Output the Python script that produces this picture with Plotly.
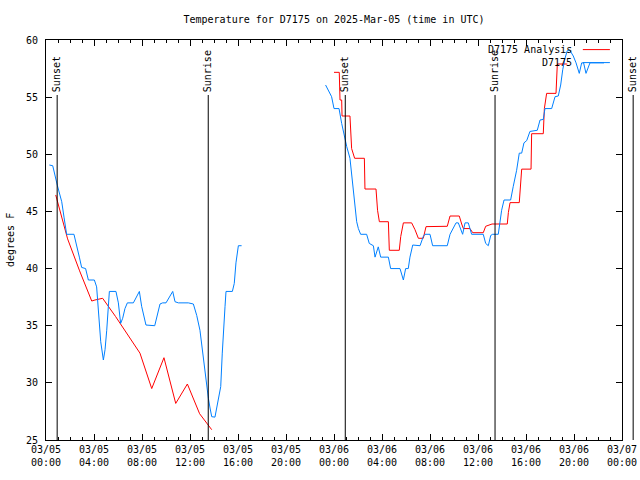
import pandas as pd
import plotly.graph_objects as go

BASE = pd.Timestamp("2025-03-05 00:00")
X_END_HOURS = 48

# Observed station series (hours since 03/05 00:00 UTC, degrees F); None = gap
obs_hours = [0.28, 0.56, 0.94, 1.31, 1.5, 1.72, 2.33, 2.6, 2.78, 2.97, 3.3, 3.53, 4.03, 4.22, 4.36, 4.56,
             4.78, 4.92, 5.06, 5.19, 5.28, 5.83, 6.03, 6.22, 6.39, 6.58, 6.78, 7.28, 7.78, 7.97, 8.33, 9.06,
             9.5, 9.72, 10.0, 10.56, 10.75, 11.03, 11.86, 12.28, 12.56, 12.83, 13.1, 13.33, 13.53, 13.67,
             13.81, 14.08, 14.36, 14.56, 14.69, 14.83, 14.92, 15.0, 15.53, 15.69, 15.83, 16.03, 16.3,
             20.0,
             23.3, 23.67, 23.8, 24.0, 24.42, 24.64, 24.92, 25.06, 25.33, 25.47, 25.6, 25.75, 25.89, 26.03,
             26.22, 26.72, 26.94, 27.28, 27.42, 27.69, 27.89, 28.53, 28.72, 29.5, 29.78, 29.97, 30.19, 30.33,
             30.56, 31.17, 31.44, 31.58, 32.0, 32.22, 33.44, 33.67, 33.89, 34.17, 34.36, 34.56, 34.72, 34.92,
             35.19, 35.47, 36.44, 36.64, 36.86, 37.06, 37.22, 37.69, 37.83, 37.97, 38.17, 38.72, 38.94, 39.22,
             39.44, 39.64, 39.83, 40.06, 40.33, 40.94, 41.17, 41.44, 41.58, 42.14, 42.42, 42.69, 42.89, 43.06,
             43.25, 43.44, 43.67, 43.94, 44.17, 44.44, 44.64, 44.8, 45.0, 45.33, 46.5]
obs_temps = [49.06, 49.0, 47.3, 45.85, 44.5, 43.0, 43.0, 41.9, 41.0, 40.1, 40.0, 39.0, 39.0, 38.4, 36.1, 33.6,
             32.0, 32.9, 34.6, 36.7, 38.0, 38.0, 37.0, 35.2, 35.65, 36.5, 37.0, 37.0, 38.0, 36.7, 35.06, 35.0,
             36.9, 37.0, 37.0, 38.0, 37.1, 37.0, 37.0, 36.9, 35.9, 34.6, 32.3, 30.0, 28.65, 27.8,
             27.04, 27.0, 28.5, 29.67, 32.6, 34.6, 36.7, 38.0, 38.0, 38.7, 40.5, 42.0, 42.0,
             None,
             56.06, 55.33, 55.04, 54.0, 54.0, 52.7, 51.25, 50.67, 49.65, 48.3, 46.6, 45.1, 44.1, 43.5,
             43.0, 43.0, 42.2, 42.0, 41.0, 41.9, 41.0, 41.0, 40.0, 40.0, 39.0, 40.0, 40.0, 41.0,
             42.06, 42.0, 42.8, 43.0, 43.0, 42.0, 42.0, 43.0, 43.4, 44.0, 44.0, 43.4, 43.0, 44.0,
             44.0, 43.0, 43.0, 42.2, 42.0, 42.9, 43.0, 43.0, 44.0, 45.1, 46.0, 46.0, 47.2, 48.6,
             50.1, 50.1, 51.0, 51.2, 52.0, 52.1, 53.0, 53.05, 54.0, 54.0, 55.04, 55.1, 56.06, 57.4,
             58.4, 59.07, 59.07, 58.6, 58.0, 57.08, 58.0, 58.0, 57.08, 58.0, 58.0]

# Analysis series
ana_hours = [0.81, 1.8, 2.8, 3.81, 4.08, 4.72, 5.8, 6.8, 7.83, 8.81, 9.83, 10.81, 11.78, 12.8, 13.81,
             20.0,
             24.0, 24.44, 24.5, 24.64, 24.67, 25.33, 25.47, 25.72, 26.53, 26.58, 27.5, 27.63, 27.78, 28.53,
             28.61, 29.44, 29.56, 29.78, 30.47, 30.75, 31.03, 31.44, 31.67, 33.44, 33.67, 34.44, 34.64, 34.78,
             35.33, 35.56, 36.44, 36.64, 37.17, 38.44, 38.53, 38.67, 39.44, 39.56, 39.64, 40.42, 40.47, 41.44,
             41.53, 41.72, 42.5, 42.61, 43.44]
ana_temps = [46.44, 42.6, 39.8, 37.16, 37.25, 37.4, 35.8, 34.2, 32.6, 29.5, 32.2, 28.2, 29.9, 27.3, 25.9,
             None,
             57.17, 57.17, 54.75, 54.75, 53.35, 53.35, 50.5, 49.65, 49.65, 46.96, 46.96, 45.1, 44.1, 44.1,
             41.6, 41.6, 42.8, 44.0, 44.0, 43.4, 42.65, 42.65, 43.67, 43.7, 44.6, 44.6, 43.9, 43.5,
             43.5, 43.14, 43.14, 43.7, 43.9, 43.9, 44.9, 45.77, 45.77, 47.17, 48.7, 48.7, 51.8, 51.8,
             54.0, 55.33, 55.33, 57.9, 57.9]

# Sun events (hours since 03/05 00:00 UTC)
sun_labels = ["Sunset", "Sunrise", "Sunset", "Sunrise", "Sunset"]
sun_hours = [0.93, 13.52, 24.94, 37.42, 48.93]

legend_names = ["D7175 Analysis", "D7175"]
COL_ANA = "#ff0000"
COL_OBS = "#0080ff"
FONT = "DejaVu Sans Mono"


def to_time(hours):
    return [BASE + pd.Timedelta(hours=h) for h in hours]


fig = go.Figure()
fig.add_trace(go.Scatter(x=to_time(ana_hours), y=ana_temps, mode="lines", name=legend_names[0],
                         line=dict(color=COL_ANA, width=1), connectgaps=False))
fig.add_trace(go.Scatter(x=to_time(obs_hours), y=obs_temps, mode="lines", name=legend_names[1],
                         line=dict(color=COL_OBS, width=1), connectgaps=False))

line_top = 0.8625
for lab, h in zip(sun_labels, sun_hours):
    xp = h / X_END_HOURS
    fig.add_shape(type="line", xref="paper", yref="paper", x0=xp, x1=xp, y0=0, y1=line_top,
                  line=dict(color="black", width=1))
    fig.add_annotation(xref="paper", yref="paper", x=xp, y=line_top, text=lab, textangle=-90,
                       showarrow=False, xanchor="center", yanchor="bottom", yshift=1,
                       font=dict(family=FONT, size=10, color="black"))

# gnuplot-style legend: right-aligned text followed by line sample
for i, (name, col) in enumerate(zip(legend_names, [COL_ANA, COL_OBS])):
    yp = 0.976 - i * 0.0325
    fig.add_annotation(xref="paper", yref="paper", x=0.9167, y=yp, text=name, showarrow=False,
                       xanchor="right", yanchor="middle", font=dict(family=FONT, size=10, color="black"))
    fig.add_shape(type="line", xref="paper", yref="paper", x0=0.932, x1=0.979, y0=yp, y1=yp,
                  line=dict(color=col, width=1))

# y-axis title
fig.add_annotation(xref="paper", yref="paper", x=-0.0625, y=0.5, text="degrees F", textangle=-90,
                   showarrow=False, xanchor="center", yanchor="middle",
                   font=dict(family=FONT, size=10, color="black"))

fig.update_layout(
    width=640, height=480,
    margin=dict(l=46, r=18, t=40, b=40, autoexpand=False),
    paper_bgcolor="white", plot_bgcolor="white",
    showlegend=False,
    font=dict(family=FONT, size=10, color="black"),
    title=dict(text="Temperature for D7175 on 2025-Mar-05 (time in UTC)", x=0.5, xref="paper",
               y=1 - 19 / 480, yanchor="middle", font=dict(family=FONT, size=10, color="black")),
)
fig.update_xaxes(
    type="date", range=[BASE, BASE + pd.Timedelta(hours=X_END_HOURS)], automargin=False,
    tick0=BASE, dtick=4 * 3600 * 1000, tickformat="%m/%d<br>%H:%M",
    ticks="inside", ticklen=6, tickcolor="black", showline=True, linecolor="black", linewidth=1,
    mirror="ticks", showgrid=False, zeroline=False,
    minor=dict(dtick=3600 * 1000, ticks="inside", ticklen=3, tickcolor="black", showgrid=False),
    tickfont=dict(family=FONT, size=10, color="black"),
)
fig.update_yaxes(
    range=[25, 60], dtick=5, tick0=25, automargin=False, ticklabelstandoff=5,
    ticks="inside", ticklen=6, tickcolor="black", showline=True, linecolor="black", linewidth=1,
    mirror="ticks", showgrid=False, zeroline=False,
    tickfont=dict(family=FONT, size=10, color="black"),
)

fig.write_html("out.html", config={"displayModeBar": False},
               post_script="document.body.style.margin='0px';document.body.style.overflow='hidden';")
